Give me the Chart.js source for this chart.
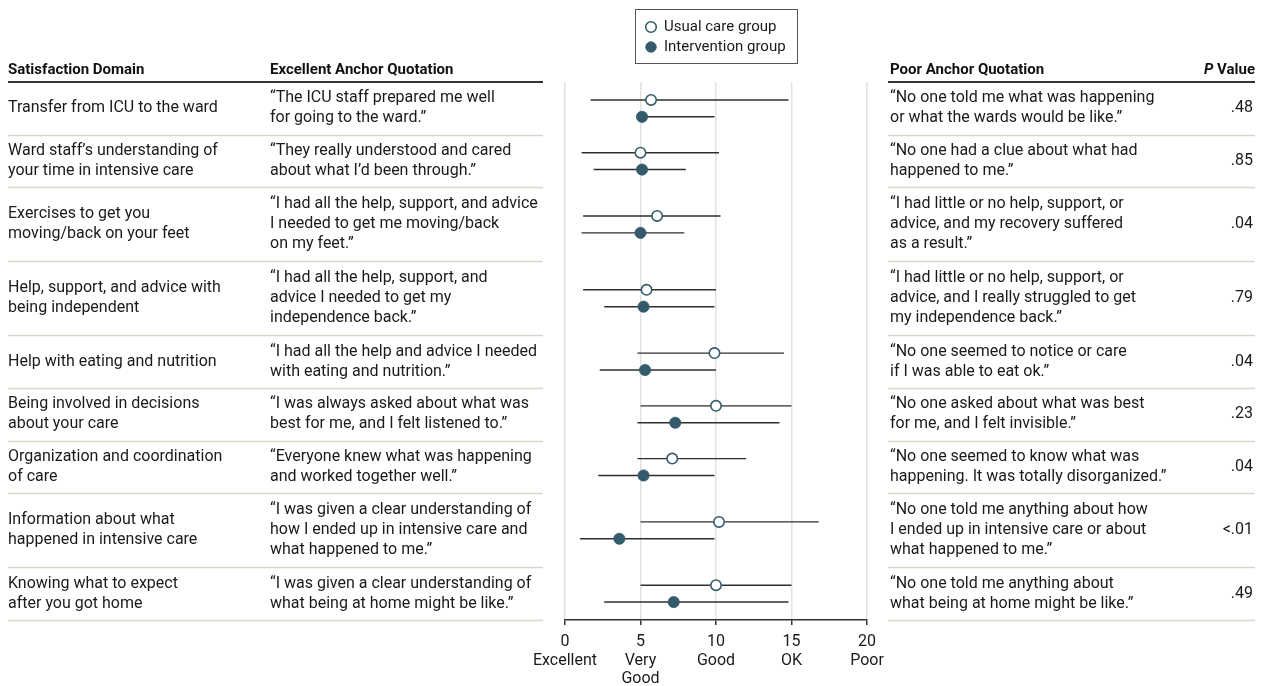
<!DOCTYPE html>
<html>
<head>
<meta charset="utf-8">
<script src="https://cdn.jsdelivr.net/npm/chart.js@4.4.1/dist/chart.umd.min.js"></script>
<style>
  html, body { margin: 0; background: #fff; }
  #wrap { width: 1262px; height: 686px; position: relative; }
</style>
</head>
<body>
<div id="wrap"><canvas id="chart" width="1262" height="686"></canvas></div>
<script>
/* satisfaction domains, one row each */
const DOMAINS = [
  "Transfer from ICU to the ward",
  "Ward staff\u2019s understanding of\nyour time in intensive care",
  "Exercises to get you\nmoving/back on your feet",
  "Help, support, and advice with\nbeing independent",
  "Help with eating and nutrition",
  "Being involved in decisions\nabout your care",
  "Organization and coordination\nof care",
  "Information about what\nhappened in intensive care",
  "Knowing what to expect\nafter you got home",
];
const EXCELLENT_QUOTES = [
  "\u201cThe ICU staff prepared me well\nfor going to the ward.\u201d",
  "\u201cThey really understood and cared\nabout what I\u2019d been through.\u201d",
  "\u201cI had all the help, support, and advice\nI needed to get me moving/back\non my feet.\u201d",
  "\u201cI had all the help, support, and\nadvice I needed to get my\nindependence back.\u201d",
  "\u201cI had all the help and advice I needed\nwith eating and nutrition.\u201d",
  "\u201cI was always asked about what was\nbest for me, and I felt listened to.\u201d",
  "\u201cEveryone knew what was happening\nand worked together well.\u201d",
  "\u201cI was given a clear understanding of\nhow I ended up in intensive care and\nwhat happened to me.\u201d",
  "\u201cI was given a clear understanding of\nwhat being at home might be like.\u201d",
];
const POOR_QUOTES = [
  "\u201cNo one told me what was happening\nor what the wards would be like.\u201d",
  "\u201cNo one had a clue about what had\nhappened to me.\u201d",
  "\u201cI had little or no help, support, or\nadvice, and my recovery suffered\nas a result.\u201d",
  "\u201cI had little or no help, support, or\nadvice, and I really struggled to get\nmy independence back.\u201d",
  "\u201cNo one seemed to notice or care\nif I was able to eat ok.\u201d",
  "\u201cNo one asked about what was best\nfor me, and I felt invisible.\u201d",
  "\u201cNo one seemed to know what was\nhappening. It was totally disorganized.\u201d",
  "\u201cNo one told me anything about how\nI ended up in intensive care or about\nwhat happened to me.\u201d",
  "\u201cNo one told me anything about\nwhat being at home might be like.\u201d",
];
const P_VALUES = [".48", ".85", ".04", ".79", ".04", ".23", ".04", "<.01", ".49"];

/* scores, 0 = excellent ... 20 = poor */
const USUAL_MID = [5.7, 5.0, 6.1, 5.4, 9.9, 10.0, 7.1, 10.2, 10.0];
const USUAL_LO  = [1.7, 1.1, 1.2, 1.2, 4.8, 5.0, 4.8, 5.0, 5.0];
const USUAL_HI  = [14.8, 10.2, 10.3, 10.0, 14.5, 15.0, 12.0, 16.8, 15.0];
const INTERV_MID = [5.1, 5.1, 5.0, 5.2, 5.3, 7.3, 5.2, 3.6, 7.2];
const INTERV_LO  = [5.0, 1.9, 1.1, 2.6, 2.3, 4.8, 2.2, 1.0, 2.6];
const INTERV_HI  = [9.9, 8.0, 7.9, 9.9, 10.0, 14.2, 9.9, 9.9, 14.8];

const TICK_VALUES = [0, 5, 10, 15, 20];
const TICK_WORDS = ["Excellent", "Very\nGood", "Good", "OK", "Poor"];

(function () {
  const FONT = "Roboto, 'Open Sans', sans-serif";
  const TEAL = "#345b6b";
  const LINE_H = 20;

  // row heights in "line units" (21px each): half a unit of padding plus one per text line
  const nLines = DOMAINS.map(function (d, i) {
    return Math.max(d.split("\n").length,
      EXCELLENT_QUOTES[i].split("\n").length,
      POOR_QUOTES[i].split("\n").length);
  });
  const rowTop = [];
  let acc = 0;
  nLines.forEach(function (n) { rowTop.push(acc); acc += n + 0.5; });
  const TOTAL = acc;
  const rowMid = rowTop.map(function (t, i) { return t + (nLines[i] + 0.5) / 2; });

  const usualPts = USUAL_MID.map(function (v, i) { return { x: v, y: rowMid[i] - 0.4 }; });
  const intervPts = INTERV_MID.map(function (v, i) { return { x: v, y: rowMid[i] + 0.4 }; });

  const whiskers = {
    id: "whiskers",
    beforeDatasetsDraw: function (chart) {
      const ctx = chart.ctx, xs = chart.scales.x, ys = chart.scales.y;
      ctx.save();
      ctx.strokeStyle = "#2e2e2e";
      ctx.lineWidth = 1.4;
      chart.data.datasets.forEach(function (ds) {
        ds.data.forEach(function (p, i) {
          const y = ys.getPixelForValue(p.y);
          ctx.beginPath();
          ctx.moveTo(xs.getPixelForValue(ds.lo[i]), y);
          ctx.lineTo(xs.getPixelForValue(ds.hi[i]), y);
          ctx.stroke();
        });
      });
      ctx.restore();
    },
  };

  function multiline(ctx, text, x, yc) {
    const lines = text.split("\n");
    lines.forEach(function (l, k) {
      ctx.fillText(l, x, yc + (k - (lines.length - 1) / 2) * LINE_H);
    });
  }

  const table = {
    id: "table",
    afterDraw: function (chart) {
      const ctx = chart.ctx, ys = chart.scales.y;
      const top = chart.chartArea.top;
      ctx.save();
      ctx.textBaseline = "middle";

      // headers
      ctx.fillStyle = "#111";
      ctx.font = "bold 15px " + FONT;
      ctx.textAlign = "left";
      ctx.fillText("Satisfaction Domain", 8, 70);
      ctx.fillText("Excellent Anchor Quotation", 270, 70);
      ctx.fillText("Poor Anchor Quotation", 890, 70);
      ctx.textAlign = "right";
      const vw = ctx.measureText(" Value").width;
      ctx.fillText(" Value", 1255, 70);
      ctx.font = "italic bold 15px " + FONT;
      ctx.fillText("P", 1255 - vw, 70);

      ctx.strokeStyle = "#333";
      ctx.lineWidth = 1.8;
      ctx.beginPath();
      ctx.moveTo(8, top); ctx.lineTo(543, top);
      ctx.moveTo(888, top); ctx.lineTo(1255, top);
      ctx.stroke();

      // rows
      ctx.font = "16px " + FONT;
      ctx.fillStyle = "#1a1a1a";
      ctx.strokeStyle = "#d8d6cc";
      ctx.lineWidth = 1.5;
      DOMAINS.forEach(function (d, i) {
        const yc = ys.getPixelForValue(rowMid[i]);
        ctx.textAlign = "left";
        multiline(ctx, d, 8, yc);
        multiline(ctx, EXCELLENT_QUOTES[i], 270, yc);
        multiline(ctx, POOR_QUOTES[i], 890, yc);
        ctx.textAlign = "right";
        ctx.fillText(P_VALUES[i], 1253, yc);
        const yb = Math.round(ys.getPixelForValue(rowTop[i] + nLines[i] + 0.5)) + 0.5;
        ctx.beginPath();
        ctx.moveTo(8, yb); ctx.lineTo(543, yb);
        ctx.moveTo(888, yb); ctx.lineTo(1255, yb);
        ctx.stroke();
      });

      // legend box
      ctx.strokeStyle = "#555";
      ctx.lineWidth = 1;
      ctx.strokeRect(635.5, 9.5, 162, 54);
      ctx.textAlign = "left";
      ctx.font = "15px " + FONT;
      chart.data.datasets.forEach(function (ds, k) {
        const y = 27 + k * 20;
        ctx.beginPath();
        ctx.arc(651, y, 5.3, 0, Math.PI * 2);
        ctx.fillStyle = ds.pointBackgroundColor;
        ctx.fill();
        ctx.lineWidth = ds.pointBorderWidth;
        ctx.strokeStyle = ds.pointBorderColor;
        ctx.stroke();
        ctx.fillStyle = "#1a1a1a";
        ctx.fillText(ds.label, 664, y);
      });
      ctx.restore();
    },
  };

  new Chart(document.getElementById("chart").getContext("2d"), {
    type: "scatter",
    data: {
      datasets: [
        {
          label: "Usual care group",
          data: usualPts,
          lo: USUAL_LO,
          hi: USUAL_HI,
          pointRadius: 5.2,
          pointBackgroundColor: "#ffffff",
          pointBorderColor: TEAL,
          pointBorderWidth: 1.6,
        },
        {
          label: "Intervention group",
          data: intervPts,
          lo: INTERV_LO,
          hi: INTERV_HI,
          pointRadius: 5.6,
          pointBackgroundColor: TEAL,
          pointBorderColor: TEAL,
          pointBorderWidth: 0.8,
        },
      ],
    },
    options: {
      responsive: false,
      animation: false,
      devicePixelRatio: 1,
      layout: { padding: { left: 565, right: 395, top: 82, bottom: 0 } },
      plugins: { legend: { display: false }, tooltip: { enabled: false } },
      scales: {
        x: {
          type: "linear",
          min: 0,
          max: 20,
          afterFit: function (s) { s.height = 66; },
          afterBuildTicks: function (s) {
            s.ticks = TICK_VALUES.map(function (v) { return { value: v }; });
          },
          ticks: {
            color: "#1a1a1a",
            font: { family: FONT, size: 16, lineHeight: 1.15 },
            padding: 8,
            maxRotation: 0,
            callback: function (v) {
              const i = TICK_VALUES.indexOf(v);
              return [String(v)].concat(TICK_WORDS[i].split("\n"));
            },
          },
          grid: {
            color: "#e2e2e2",
            lineWidth: 1.5,
            tickColor: "#333",
            tickLength: 5,
          },
          border: { color: "#333", width: 1.5 },
        },
        y: {
          type: "linear",
          min: 0,
          max: TOTAL,
          reverse: true,
          display: false,
        },
      },
    },
    plugins: [whiskers, table],
  });
})();
</script>
</body>
</html>
